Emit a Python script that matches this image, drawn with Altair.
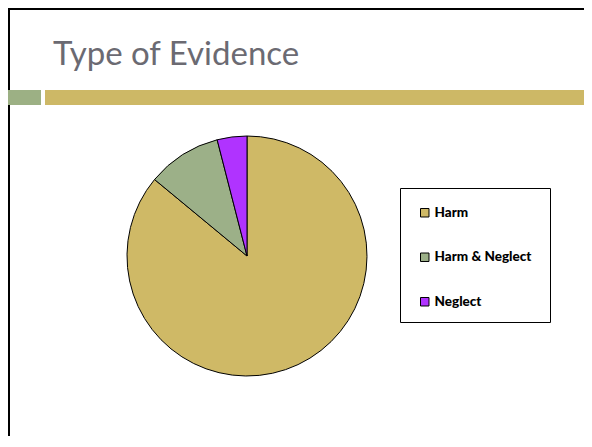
import altair as alt
import pandas as pd

# Data
categories = ["Harm", "Harm & Neglect", "Neglect"]
values = [86, 10, 4]
colors = ["#CFB966", "#9CB088", "#B033FF"]
title_text = "Type of Evidence"

df = pd.DataFrame({"category": categories, "value": values, "order": list(range(len(categories)))})
one = pd.DataFrame({"a": [0]})

W, H = 576, 428

# Slide frame (top and left border lines)
border_top = alt.Chart(one).mark_rule(color="black", strokeWidth=3).encode(
    x=alt.value(0), x2=alt.value(W), y=alt.value(0.5))
border_left = alt.Chart(one).mark_rule(color="black", strokeWidth=3).encode(
    x=alt.value(0.5), y=alt.value(0), y2=alt.value(H))

# Decorative header bars
bar_green = alt.Chart(one).mark_rect(color="#9CB084").encode(
    x=alt.value(0), x2=alt.value(33), y=alt.value(82), y2=alt.value(97))
bar_tan = alt.Chart(one).mark_rect(color="#CDB866").encode(
    x=alt.value(37), x2=alt.value(W), y=alt.value(82), y2=alt.value(97))

# Title
title = alt.Chart(one).mark_text(
    text=title_text, align="left", baseline="alphabetic",
    font="Lato", fontSize=33, color="#6B6A72").encode(
    x=alt.value(45), y=alt.value(57))

# Legend box
legend_box = alt.Chart(one).mark_rect(fill="white", stroke="black", strokeWidth=1).encode(
    x=alt.value(392.5), x2=alt.value(542.5), y=alt.value(180.5), y2=alt.value(314.5))

# Pie
pie = alt.Chart(df).mark_arc(outerRadius=120, stroke="black", strokeWidth=1).encode(
    theta=alt.Theta("value:Q", stack=True),
    order=alt.Order("order:Q"),
    color=alt.Color(
        "category:N",
        scale=alt.Scale(domain=categories, range=colors),
        legend=alt.Legend(
            title=None, orient="none", legendX=410, legendY=198,
            padding=0, symbolType="square", symbolSize=72,
            symbolStrokeColor="black", symbolStrokeWidth=1,
            labelFont="Lato", labelFontWeight=900, labelFontSize=13.5,
            labelColor="black", labelOffset=3, rowPadding=29.5,
        ),
    ),
    x=alt.value(239), y=alt.value(248),
)

chart = alt.layer(border_top, border_left, bar_green, bar_tan, title, legend_box, pie).properties(
    width=W, height=H, padding=0, autosize=alt.AutoSizeParams(type="none")
).configure_view(strokeWidth=0)

chart.save("out.html", embed_options={"renderer": "svg", "actions": False})
